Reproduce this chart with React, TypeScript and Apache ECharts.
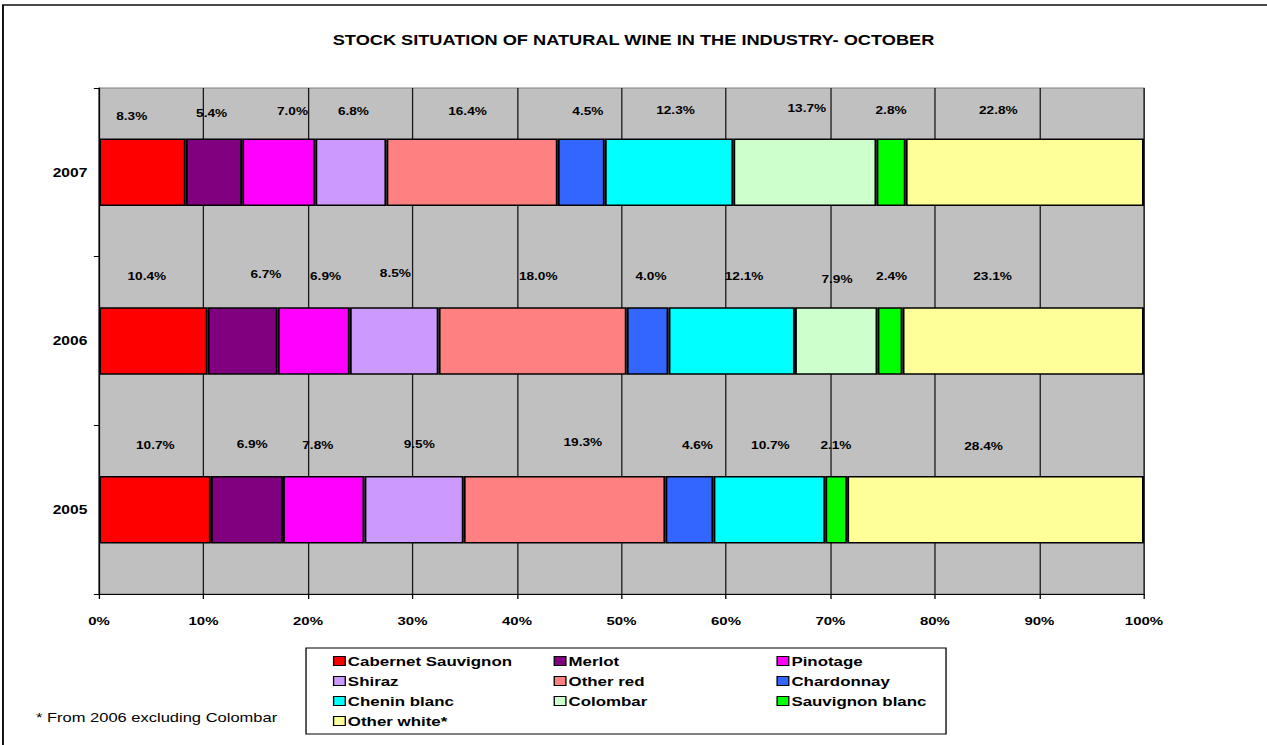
import React, { useEffect, useRef } from "react";
import * as echarts from "echarts";

// ---- data ----
const categories = ["2005", "2006", "2007"];
const xTicks = [0, 10, 20, 30, 40, 50, 60, 70, 80, 90, 100];

const cabernetSauvignon = [10.7, 10.4, 8.3];
const merlot = [6.9, 6.7, 5.4];
const pinotage = [7.8, 6.9, 7.0];
const shiraz = [9.5, 8.5, 6.8];
const otherRed = [19.3, 18.0, 16.4];
const chardonnay = [4.6, 4.0, 4.5];
const cheninBlanc = [10.7, 12.1, 12.3];
const colombar = [null, 7.9, 13.7];
const sauvignonBlanc = [2.1, 2.4, 2.8];
const otherWhite = [28.4, 23.1, 22.8];

const footnote = "* From 2006 excluding Colombar";
const titleText = "STOCK SITUATION OF NATURAL WINE IN THE INDUSTRY- OCTOBER";

// ---- styles ----
const SX = 1267 / 975; // horizontal stretch of the original picture
const FONT = "'Liberation Sans', Arial, sans-serif";

const seriesDefs = [
  { name: "Cabernet Sauvignon", data: cabernetSauvignon, color: "#FF0000" },
  { name: "Merlot", data: merlot, color: "#800080" },
  { name: "Pinotage", data: pinotage, color: "#FF00FF" },
  { name: "Shiraz", data: shiraz, color: "#CC99FF" },
  { name: "Other red", data: otherRed, color: "#FF8080" },
  { name: "Chardonnay", data: chardonnay, color: "#3366FF" },
  { name: "Chenin blanc", data: cheninBlanc, color: "#00FFFF" },
  { name: "Colombar", data: colombar, color: "#CCFFCC" },
  { name: "Sauvignon blanc", data: sauvignonBlanc, color: "#00FF00" },
  { name: "Other white*", data: otherWhite, color: "#FFFF99" },
];

// label nudges [dx, dy] per year (2005, 2006, 2007), mimicking the original placement
const labelNudges: Record<string, number[][]> = {
  "Cabernet Sauvignon": [[0.3, -19], [-5, -19.6], [-8.2, -10.9]],
  Merlot: [[4.1, -20], [17.9, -21.3], [-1.8, -13.6]],
  Pinotage: [[-4.5, -19], [9.1, -19.6], [10.6, -15.6]],
  Shiraz: [[4, -20.7], [0.9, -23], [2, -15.6]],
  "Other red": [[14.1, -22.3], [4.3, -19.6], [-3.5, -15.6]],
  Chardonnay: [[6.2, -19], [2.6, -19.6], [5.1, -15.6]],
  "Chenin blanc": [[0.8, -19], [9.5, -19.6], [5, -16.9]],
  Colombar: [[0, 0], [0.6, -16.3], [1.5, -18.6]],
  "Sauvignon blanc": [[-0.2, -19], [1.2, -19.6], [0, -16.9]],
  "Other white*": [[-9.2, -18.3], [-23.6, -19.6], [-20.4, -16.9]],
};

const legendColumns = [
  { left: 256.2, names: ["Cabernet Sauvignon", "Shiraz", "Chenin blanc", "Other white*"] },
  { left: 426, names: ["Merlot", "Other red", "Colombar"] },
  { left: 597.5, names: ["Pinotage", "Chardonnay", "Sauvignon blanc"] },
];

export default function App() {
  const ref = useRef<HTMLDivElement>(null);

  useEffect(() => {
    if (!ref.current) return;
    const chart = echarts.init(ref.current, null, { renderer: "svg" });

    const series = seriesDefs.map((s) => ({
      name: s.name,
      type: "bar",
      stack: "total",
      barCategoryGap: "60%",
      itemStyle: { color: s.color, borderColor: "#000", borderWidth: 1.5 },
      label: {
        show: true,
        position: "top",
        distance: 5,
        fontFamily: FONT,
        fontSize: 10.5,
        lineHeight: 12,
        fontWeight: "bold",
        color: "#000",
        formatter: (p: any) =>
          p.value == null || p.value === "-" ? "" : Number(p.value).toFixed(1) + "%",
      },
      data: s.data.map((v, i) =>
        v == null ? "-" : { value: v, label: { offset: labelNudges[s.name][i] } }
      ),
    }));

    const legends = legendColumns.map((c) => ({
      orient: "vertical",
      left: c.left,
      top: 654,
      padding: 0,
      itemGap: 6,
      itemWidth: 9,
      itemHeight: 9,
      icon: "rect",
      selectedMode: false,
      itemStyle: { borderColor: "#000", borderWidth: 1 },
      textStyle: {
        fontFamily: FONT,
        fontSize: 13,
        lineHeight: 14,
        fontWeight: "bold",
        color: "#000",
        padding: [0, 0, 0, -3],
      },
      data: c.names,
    }));

    chart.setOption({
      animation: false,
      backgroundColor: "#fff",
      title: {
        text: titleText,
        left: "center",
        top: 33,
        padding: 0,
        textStyle: { fontFamily: FONT, fontSize: 14, fontWeight: "bold", color: "#000" },
      },
      legend: legends,
      grid: {
        left: 76.2,
        top: 88,
        width: 804.1,
        height: 506,
        show: true,
        backgroundColor: "#C0C0C0",
        borderColor: "#808080",
        borderWidth: 1,
        containLabel: false,
      },
      xAxis: {
        type: "value",
        min: xTicks[0],
        max: xTicks[xTicks.length - 1],
        interval: xTicks[1] - xTicks[0],
        axisLine: { show: true, lineStyle: { color: "#000", width: 1 } },
        axisTick: { show: true, length: 5, lineStyle: { color: "#000" } },
        splitLine: { show: true, lineStyle: { color: "#1a1a1a", width: 1 } },
        axisLabel: {
          margin: 21,
          fontFamily: FONT,
          fontSize: 11.5,
          fontWeight: "bold",
          color: "#000",
          formatter: "{value}%",
        },
      },
      yAxis: {
        type: "category",
        data: categories,
        axisLine: { show: true, lineStyle: { color: "#000", width: 1 } },
        axisTick: { show: true, length: 4, lineStyle: { color: "#000" } },
        splitLine: { show: false },
        axisLabel: {
          margin: 9,
          fontFamily: FONT,
          fontSize: 12,
          fontWeight: "bold",
          color: "#000",
        },
      },
      graphic: [
        {
          type: "rect",
          z: 0,
          silent: true,
          shape: { x: 2.3, y: 5, width: 1000, height: 800 },
          style: { fill: "none", stroke: "#111", lineWidth: 1.5 },
        },
        {
          type: "rect",
          z: 0,
          silent: true,
          shape: { x: 235.5, y: 648, width: 492.5, height: 86 },
          style: { fill: "none", stroke: "#000", lineWidth: 1 },
        },
        {
          type: "text",
          z: 1,
          x: 27.7,
          y: 718,
          style: {
            text: footnote,
            fontFamily: FONT,
            fontSize: 12.7,
            fill: "#000",
            align: "left",
            verticalAlign: "middle",
          },
        },
      ],
      tooltip: { show: false },
      series,
    });

    return () => chart.dispose();
  }, []);

  return (
    <div
      ref={ref}
      style={{
        position: "absolute",
        left: 0,
        top: 0,
        width: 975,
        height: 745,
        transform: `scaleX(${SX})`,
        transformOrigin: "0 0",
      }}
    />
  );
}
